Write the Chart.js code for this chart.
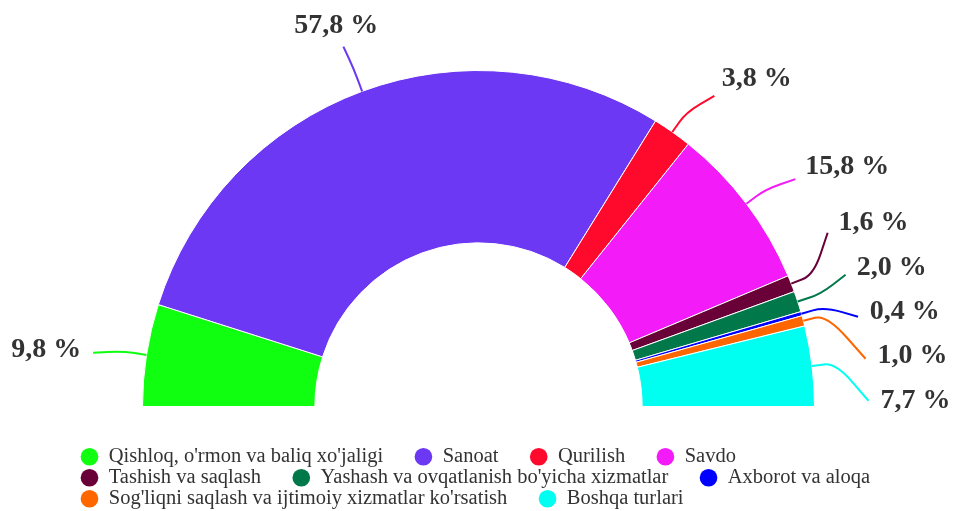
<!DOCTYPE html>
<html>
<head>
<meta charset="utf-8">
<script src="https://cdn.jsdelivr.net/npm/chart.js@4.4.1/dist/chart.umd.min.js"></script>
<style>
  html, body { margin: 0; padding: 0; background: #fff; }
  #wrap { width: 954px; height: 511px; }
</style>
</head>
<body>
<div id="wrap"><canvas id="halfPie" width="954" height="511"></canvas></div>
<script>
const categories = [
    "Qishloq, o'rmon va baliq xo'jaligi",
    "Sanoat",
    "Qurilish",
    "Savdo",
    "Tashish va saqlash",
    "Yashash va ovqatlanish bo'yicha xizmatlar",
    "Axborot va aloqa",
    "Sog'liqni saqlash va ijtimoiy xizmatlar ko'rsatish",
    "Boshqa turlari"
];
const shares = [9.8, 57.8, 3.8, 15.8, 1.6, 2.0, 0.4, 1.0, 7.7];
const sliceColors = ['#10ff10', '#6c38f4', '#ff0a2c', '#f31bf7', '#6a0038', '#00784a', '#0000ff', '#ff6600', '#00fff0'];

const serif = '"Liberation Serif", "Times New Roman", serif';

// percent text like "57,8 %"
function fmt(v) {
    return v.toFixed(1).replace('.', ',') + ' %';
}

// labels with curved leader lines, right side labels spread so they don't overlap
const sliceLabels = {
    id: 'sliceLabels',
    afterDatasetsDraw(chart) {
        const ctx = chart.ctx;
        const arcs = chart.getDatasetMeta(0).data;
        const gap = 42;
        const items = arcs.map((arc, i) => {
            const p = arc.getProps(['x', 'y', 'startAngle', 'endAngle', 'outerRadius'], true);
            const mid = (p.startAngle + p.endAngle) / 2;
            const rl = p.outerRadius + 54;
            return {
                i: i, p: p, mid: mid, rl: rl,
                ny: p.y + Math.sin(mid) * rl + 8,
                right: Math.cos(mid) > 0.3
            };
        });

        // cluster the right side labels
        const side = items.filter(it => it.right).sort((a, b) => a.ny - b.ny);
        let groups = side.map(it => ({ list: [it], sum: it.ny }));
        let merged = true;
        while (merged) {
            merged = false;
            for (let k = 0; k < groups.length - 1; k++) {
                const g = groups[k], h = groups[k + 1];
                const gTop = g.sum / g.list.length - (g.list.length - 1) * gap / 2;
                const hTop = h.sum / h.list.length - (h.list.length - 1) * gap / 2;
                if (hTop < gTop + g.list.length * gap) {
                    groups.splice(k, 2, { list: g.list.concat(h.list), sum: g.sum + h.sum });
                    merged = true;
                    break;
                }
            }
        }
        groups.forEach(g => {
            const n = g.list.length;
            // crowded groups sit a little lower
            const top = g.sum / n - (n - 1) * gap / 2 + (n > 1 ? 6 : 0);
            g.list.forEach((it, k) => { it.ny = top + k * gap; });
        });

        items.forEach(it => {
            const p = it.p;
            const ax = p.x + Math.cos(it.mid) * p.outerRadius;
            const ay = p.y + Math.sin(it.mid) * p.outerRadius;
            const bx = p.x + Math.cos(it.mid) * (p.outerRadius + 24);
            const by = p.y + Math.sin(it.mid) * (p.outerRadius + 24);
            let ex, ey;
            if (it.right) {
                const dy = it.ny - p.y;
                ex = p.x + Math.sqrt(Math.max(it.rl * it.rl - dy * dy, 0));
                ey = it.ny;
            } else {
                ex = p.x + Math.cos(it.mid) * it.rl;
                ey = p.y + Math.sin(it.mid) * it.rl + 6;
            }

            ctx.save();
            ctx.strokeStyle = sliceColors[it.i];
            ctx.lineWidth = 2;
            ctx.beginPath();
            ctx.moveTo(ax, ay);
            ctx.lineTo((ax + bx) / 2, (ay + by) / 2);
            ctx.quadraticCurveTo(bx, by, (bx + ex) / 2, (by + ey) / 2);
            ctx.lineTo(ex, ey);
            ctx.stroke();

            const dir = Math.atan2(ey - p.y, ex - p.x);
            const c = Math.cos(dir);
            const align = c > 0.5 ? 'left' : (c < -0.5 ? 'right' : 'center');
            ctx.font = 'bold 28px ' + serif;
            ctx.fillStyle = '#333';
            ctx.textBaseline = 'middle';
            ctx.textAlign = align;
            ctx.fillText(fmt(shares[it.i]), ex + c * (align === 'center' ? 20 : 12), ey + Math.sin(dir) * 22);
            ctx.restore();
        });
    }
};

// fixed legend box under the half ring, left aligned block
const legendPlace = {
    id: 'legendPlace',
    beforeInit(chart) {
        const fit = chart.legend.fit;
        chart.legend.fit = function () {
            fit.bind(chart.legend)();
            this.height = 104;
        };
    },
    afterLayout(chart) {
        const lg = chart.legend;
        lg.left = 80;
        lg.right = 925;
        lg.top = 446;
        lg.bottom = 511;
    }
};

new Chart(document.getElementById('halfPie').getContext('2d'), {
    type: 'doughnut',
    data: {
        labels: categories,
        datasets: [{
            data: shares,
            backgroundColor: sliceColors,
            borderColor: '#fff',
            borderWidth: 1,
            hoverOffset: 0
        }]
    },
    options: {
        responsive: false,
        animation: false,
        rotation: -90,
        circumference: 180,
        cutout: '48.7%',
        layout: { padding: { top: 70, left: 3 } },
        plugins: {
            tooltip: { enabled: false },
            legend: {
                position: 'bottom',
                align: 'start',
                labels: {
                    usePointStyle: true,
                    pointStyle: 'circle',
                    boxWidth: 18,
                    boxHeight: 12.5,
                    padding: 0.5,
                    color: '#333',
                    font: { family: serif, size: 20.5 },
                    generateLabels(chart) {
                        const base = Chart.overrides.doughnut.plugins.legend.labels.generateLabels(chart);
                        return base.map(l => Object.assign(l, {
                            text: l.text + '\u2003\u2002',
                            strokeStyle: l.fillStyle,
                            lineWidth: 0
                        }));
                    }
                }
            }
        }
    },
    plugins: [sliceLabels, legendPlace]
});
</script>
</body>
</html>
